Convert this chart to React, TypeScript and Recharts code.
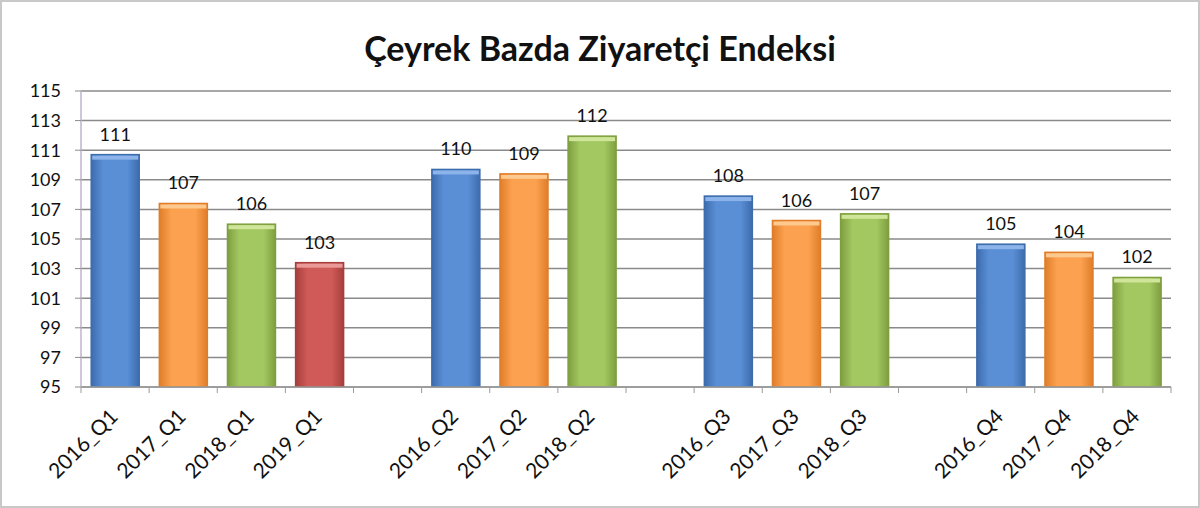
import { BarChart, Bar, XAxis, YAxis, CartesianGrid, Cell, LabelList } from "recharts";

const q1Categories = ["2016_Q1", "2017_Q1", "2018_Q1", "2019_Q1"];
const q1Values = [110.7, 107.4, 106.0, 103.4];
const q2Categories = ["2016_Q2", "2017_Q2", "2018_Q2"];
const q2Values = [109.7, 109.4, 111.95];
const q3Categories = ["2016_Q3", "2017_Q3", "2018_Q3"];
const q3Values = [107.9, 106.25, 106.7];
const q4Categories = ["2016_Q4", "2017_Q4", "2018_Q4"];
const q4Values = [104.65, 104.1, 102.4];

const yTicks = [95, 97, 99, 101, 103, 105, 107, 109, 111, 113, 115];

const yearColors: Record<string, string[]> = {
  "2016": ["#3d6cad", "#5a8fd6", "#8cb4ea"],
  "2017": ["#e07d2a", "#fba14f", "#fdc98e"],
  "2018": ["#7f9f3f", "#a3c862", "#cfe59a"],
  "2019": ["#a63f3c", "#d05a57", "#e99a98"],
};

// bars grouped by quarter, with an empty slot between quarters
const groups = [
  [q1Categories, q1Values],
  [q2Categories, q2Values],
  [q3Categories, q3Values],
  [q4Categories, q4Values],
] as [string[], number[]][];

const data: { name: string; value: number | null }[] = [];
groups.forEach(([cats, vals], gi) => {
  if (gi > 0) data.push({ name: "gap" + gi, value: null });
  cats.forEach((c, i) => data.push({ name: c, value: vals[i] }));
});

const W = 1200;
const H = 508;
const M = { top: 91, right: 29, bottom: 0, left: 0 };
const Y_W = 81;
const X_H = 121;
const half = (W - M.left - M.right - Y_W) / data.length / 2;

const FONT = "Lato, 'Open Sans', sans-serif";

const XTick = ({ x, y, payload, index }: any) => {
  const name: string = payload.value;
  const last = index === data.length - 1;
  return (
    <g>
      <line x1={x - half} x2={x - half} y1={y} y2={y + 6} stroke="#9a9a9a" />
      {last && <line x1={x + half} x2={x + half} y1={y} y2={y + 6} stroke="#9a9a9a" />}
      {!name.startsWith("gap") && (
        <text
          x={x + 4}
          y={y + 31}
          textAnchor="end"
          transform={`rotate(-45 ${x + 4} ${y + 31})`}
          fontSize={21}
          fontFamily={FONT}
          fill="#111"
        >
          {name}
        </text>
      )}
    </g>
  );
};

const BarShape = (props: any) => {
  const { x, y, width, height, payload } = props;
  if (!height || height <= 0) return null;
  const year = String(payload.name).slice(0, 4);
  const c = yearColors[year];
  return (
    <g>
      <rect x={x} y={y} width={width} height={height} fill={`url(#g${year})`} stroke={c[0]} strokeWidth={1.5} />
      <rect x={x + 1} y={y + 1} width={width - 2} height={4} fill={c[2]} />
    </g>
  );
};

export default function App() {
  return (
    <div
      style={{
        position: "absolute",
        left: 0,
        top: 0,
        width: W - 4,
        height: H - 4,
        border: "2px solid #c8c8c8",
        background: "#fff",
      }}
    >
      <div
        style={{
          position: "absolute",
          left: 0,
          top: 29,
          width: W - 4,
          textAlign: "center",
          fontFamily: FONT,
          fontWeight: 700,
          fontSize: 34,
          lineHeight: "34px",
          color: "#111",
        }}
      >
        Çeyrek Bazda Ziyaretçi Endeksi
      </div>
      <div style={{ position: "absolute", left: -2, top: -2 }}>
        <BarChart width={W} height={H} data={data} margin={M} barCategoryGap="15%">
          <defs>
            {Object.keys(yearColors).map((y) => (
              <linearGradient key={y} id={`g${y}`} x1="0" y1="0" x2="1" y2="0">
                <stop offset="0%" stopColor={yearColors[y][0]} />
                <stop offset="25%" stopColor={yearColors[y][1]} />
                <stop offset="75%" stopColor={yearColors[y][1]} />
                <stop offset="100%" stopColor={yearColors[y][0]} />
              </linearGradient>
            ))}
          </defs>
          <CartesianGrid vertical={false} stroke="#8a8a8a" strokeWidth={1.5} />
          <XAxis
            dataKey="name"
            height={X_H}
            interval={0}
            tickLine={false}
            tickSize={0}
            tickMargin={0}
            axisLine={{ stroke: "#9a9a9a", strokeWidth: 1.5 }}
            tick={<XTick />}
          />
          <YAxis
            width={Y_W}
            domain={[95, 115]}
            ticks={yTicks}
            interval={0}
            allowDataOverflow
            axisLine={{ stroke: "#bcb4cc", strokeWidth: 1.5 }}
            tickLine={{ stroke: "#8a8a8a" }}
            tickSize={6}
            tickMargin={14}
            tick={{ fontSize: 18, fontFamily: FONT, fill: "#111" }}
          />
          <Bar dataKey="value" isAnimationActive={false} shape={<BarShape />}>
            {data.map((d, i) => (
              <Cell key={i} fill={d.name.startsWith("gap") ? "none" : yearColors[d.name.slice(0, 4)][1]} />
            ))}
            <LabelList
              dataKey="value"
              position="top"
              offset={14}
              formatter={(v: any) => (v == null ? "" : Math.round(v))}
              style={{ fontSize: 18, fontFamily: FONT, fill: "#111" }}
            />
          </Bar>
        </BarChart>
      </div>
    </div>
  );
}
